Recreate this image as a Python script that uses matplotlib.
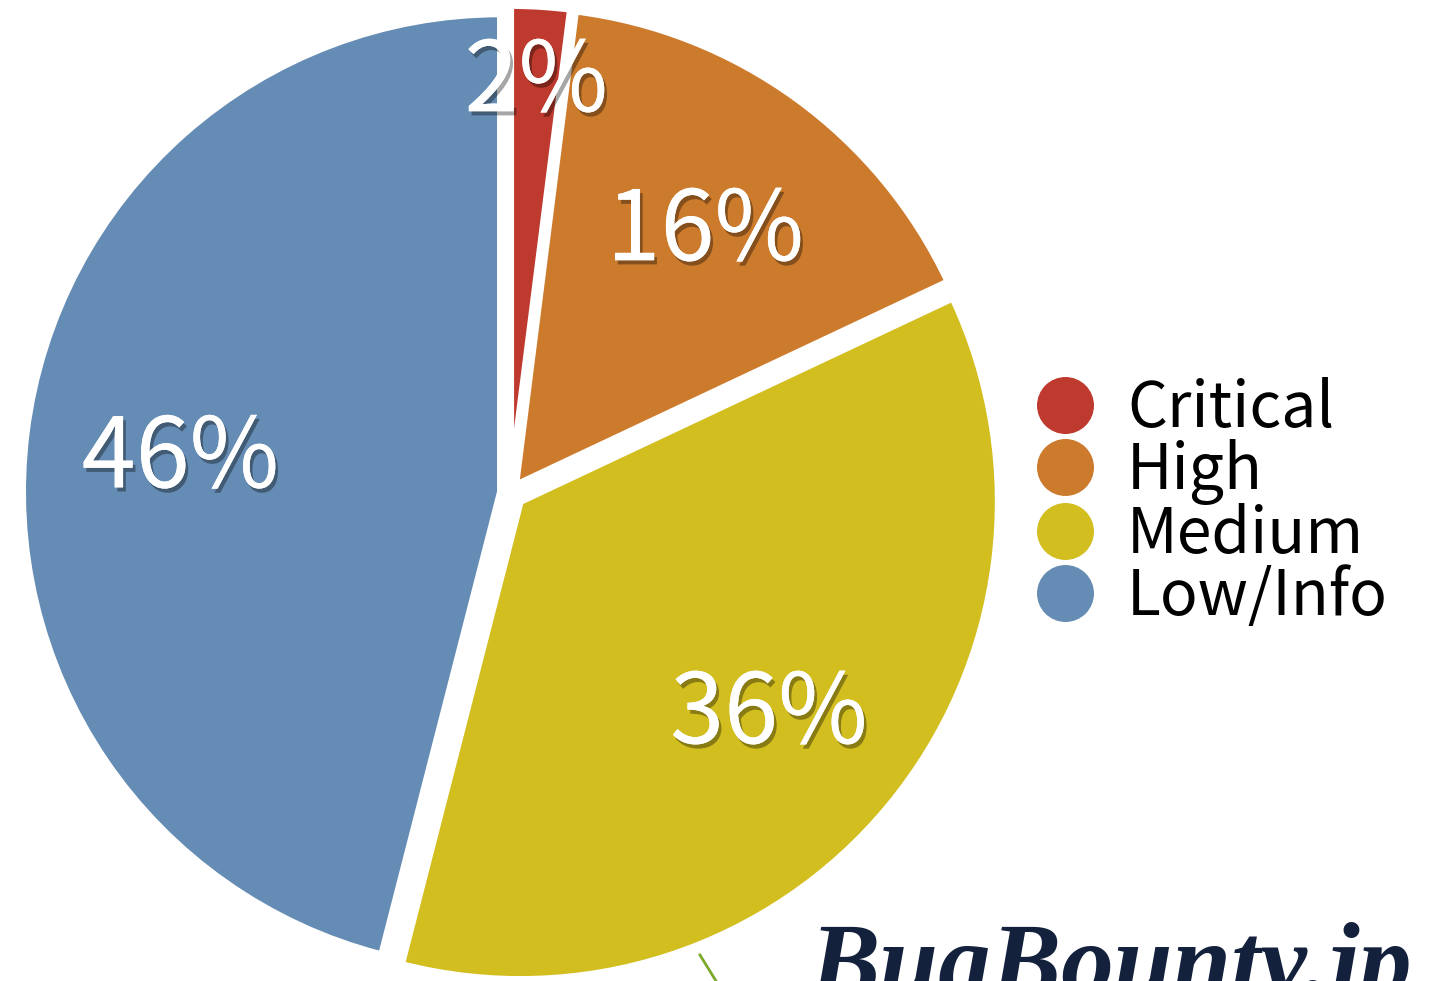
import matplotlib
matplotlib.use("Agg")
import matplotlib.pyplot as plt
import matplotlib.patheffects as pe
import matplotlib.transforms as mtransforms
from matplotlib.lines import Line2D

categories = ["Critical", "High", "Medium", "Low/Info"]
values = [2, 16, 36, 46]
colors = ["#BF3A2E", "#CC7A2C", "#D2BE1F", "#658CB4"]
logo_text = "BugBounty.jp"

fig = plt.figure(figsize=(14.39, 9.81), dpi=100)
fig.patch.set_facecolor("white")

R_px = 478
cx, cy = 510, 493
W, H = 1439, 981
ax = fig.add_axes([(cx - R_px) / W, (H - cy - R_px) / H, 2 * R_px / W, 2 * R_px / H])

wedges, texts, autotexts = ax.pie(
    values, colors=colors, startangle=90, counterclock=False,
    explode=[0.02, 0.02, 0.028, 0.02],
    wedgeprops=dict(edgecolor="white", linewidth=5),
    autopct=lambda p: f"{p:.0f}%", pctdistance=0.675,
    textprops=dict(color="white", fontsize=70, family=["Noto Sans CJK JP", "DejaVu Sans"],
                   fontweight="normal"),
)
ax.set_xlim(-1, 1)
ax.set_ylim(-1, 1)
ax.set_aspect("equal")
ax.axis("off")

# smallest slice label is pushed outward
x, y = autotexts[0].get_position()
autotexts[0].set_position((x * 1.26, y * 1.26))
shift = mtransforms.ScaledTranslation(0, -0.36, fig.dpi_scale_trans)
for t in autotexts:
    t.set_va("baseline")
    t.set_transform(ax.transData + shift)
    t.set_path_effects([pe.withSimplePatchShadow(offset=(2, -3), shadow_rgbFace="black", alpha=0.35),
                        pe.Normal()])

handles = [Line2D([], [], marker="o", linestyle="none", markersize=40,
                  markerfacecolor=c, markeredgecolor=c) for c in colors]
fig.legend(handles, categories, loc="center left", bbox_to_anchor=(1002 / W, (H - 503) / H),
           frameon=False, prop=dict(family=["Noto Sans CJK JP", "DejaVu Sans"], size=45),
           labelspacing=-0.03, handletextpad=0.4, handlelength=1.2, borderaxespad=0)

# small green stroke at bottom
fig.add_artist(Line2D([700 / W, 716 / W], [(H - 955) / H, (H - 981) / H],
                      color="#7BAA2A", linewidth=2))

fig.text(810 / W, (H - 996) / H, logo_text, fontsize=76, family="Liberation Serif",
         style="italic", fontweight="bold", color="#14213D", ha="left", va="baseline")

fig.savefig("out.png", dpi=100, facecolor="white")
